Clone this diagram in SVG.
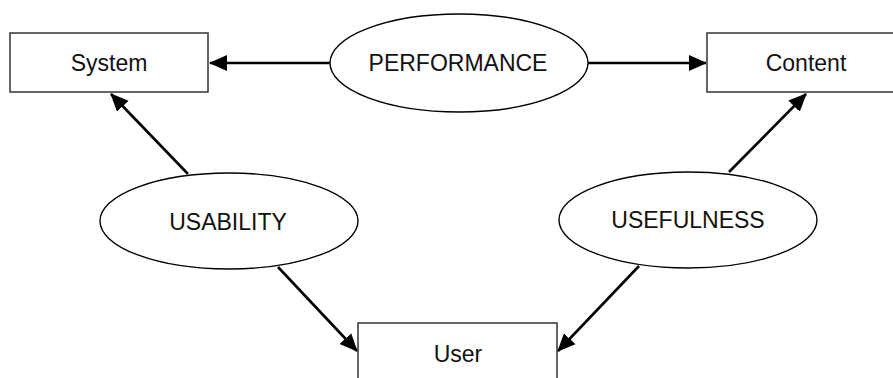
<svg xmlns="http://www.w3.org/2000/svg" width="893" height="378" viewBox="0 0 893 378">
  <style>
    .box { fill: #fff; stroke: #333; stroke-width: 1.5; }
    .oval { fill: #fff; stroke: #000; stroke-width: 1.4; }
    .label { font-family: "Liberation Sans", Arial, sans-serif; font-size: 23px; fill: #111; text-anchor: middle; }
    .edge { stroke: #000; stroke-width: 2.6; fill: none; marker-end: url(#head); }
  </style>
  <defs>
    <marker id="head" markerUnits="userSpaceOnUse" markerWidth="18" markerHeight="18" viewBox="0 0 18 16" refX="17" refY="8" orient="auto">
      <path d="M0,0 L18,8 L0,16 Z" fill="#000"/>
    </marker>
  </defs>
  <rect width="893" height="378" fill="#fff"/>

  <g id="connectors">
    <line class="edge" x1="330" y1="63" x2="210" y2="63"/>
    <line class="edge" x1="588" y1="63" x2="706" y2="63"/>
    <line class="edge" x1="188" y1="174" x2="111" y2="94"/>
    <line class="edge" x1="278" y1="267" x2="357" y2="351"/>
    <line class="edge" x1="729" y1="172" x2="806" y2="94"/>
    <line class="edge" x1="639" y1="266" x2="558" y2="351"/>
  </g>

  <g id="system">
    <rect class="box" x="10" y="33" width="198" height="59"/>
    <text class="label" x="109" y="71">System</text>
  </g>

  <g id="content">
    <rect class="box" x="707" y="33" width="198" height="59"/>
    <text class="label" x="806" y="71">Content</text>
  </g>

  <g id="user">
    <rect class="box" x="358" y="323" width="199" height="70"/>
    <text class="label" x="458" y="362">User</text>
  </g>

  <g id="performance">
    <ellipse class="oval" cx="459" cy="63" rx="129" ry="49"/>
    <text class="label" x="458" y="71">PERFORMANCE</text>
  </g>

  <g id="usability">
    <ellipse class="oval" cx="229" cy="221" rx="129" ry="48"/>
    <text class="label" x="228" y="230">USABILITY</text>
  </g>

  <g id="usefulness">
    <ellipse class="oval" cx="688" cy="220" rx="129" ry="48"/>
    <text class="label" x="688" y="228">USEFULNESS</text>
  </g>
</svg>
